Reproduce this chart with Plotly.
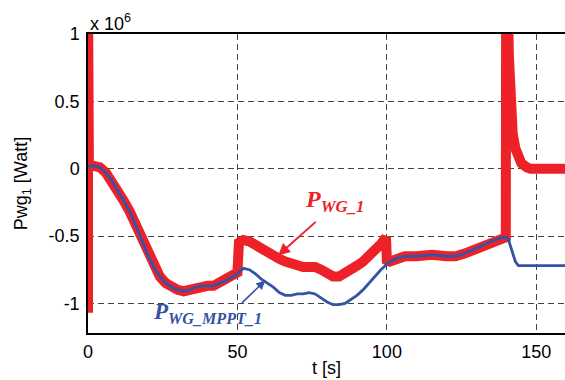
import plotly.graph_objects as go

# Blue: P_WG_MPPT_1 (units of 1e6 W)
t_mppt = [0, 2, 4, 6, 8, 10, 12, 14, 16, 18, 20, 22, 24, 26, 28, 30, 32, 34, 36, 38, 40,
          42, 44, 46, 48, 50, 51, 52, 54, 56, 58, 60, 62, 64, 66, 68, 70, 72, 74, 76, 78,
          80, 82, 84, 86, 88, 90, 92, 94, 96, 98, 100, 101, 103, 106, 110, 115, 120, 123,
          126, 130, 133, 136, 139, 140.3, 141, 142, 143, 144, 150, 160]
p_mppt = [0.02, 0.02, 0.01, -0.03, -0.09, -0.16, -0.24, -0.32, -0.42, -0.53, -0.64, -0.73,
          -0.80, -0.85, -0.88, -0.90, -0.91, -0.90, -0.88, -0.87, -0.87, -0.87, -0.85, -0.83,
          -0.81, -0.78, -0.76, -0.74, -0.75, -0.78, -0.82, -0.85, -0.88, -0.92, -0.94, -0.94,
          -0.93, -0.93, -0.92, -0.93, -0.96, -0.99, -1.01, -1.01, -1.00, -0.97, -0.94, -0.90,
          -0.85, -0.80, -0.75, -0.71, -0.69, -0.67, -0.65, -0.65, -0.64, -0.65, -0.65, -0.63,
          -0.59, -0.56, -0.53, -0.51, -0.51, -0.55, -0.63, -0.69, -0.72, -0.72, -0.72]

# Red: P_WG_1 (units of 1e6 W)
t_wg = [0, 0, 0.3, 2, 4, 6, 8, 10, 12, 14, 16, 18, 20, 22, 24, 26, 28, 30, 32, 34, 36, 38,
        40, 42, 44, 46, 48, 50, 50.5, 52, 54, 56, 58, 60, 62, 64, 66, 68, 70, 72, 74, 76, 78,
        80, 82, 84, 86, 88, 90, 92, 94, 96, 98, 99.7, 100, 101, 103, 106, 110, 115, 120, 123,
        126, 130, 133, 136, 139, 139.8, 139.9, 140.5, 140.8, 141.5, 142.1, 143.0, 143.8, 145,
        146.8, 148, 160]
p_wg = [-1.07, 1.3, 0.02, 0.02, 0.01, -0.03, -0.09, -0.16, -0.24, -0.32, -0.42, -0.53,
        -0.64, -0.73, -0.80, -0.85, -0.88, -0.90, -0.91, -0.90, -0.88, -0.87, -0.87, -0.87,
        -0.85, -0.83, -0.81, -0.77, -0.55, -0.53, -0.54, -0.57, -0.60, -0.63, -0.65, -0.67,
        -0.69, -0.71, -0.72, -0.73, -0.73, -0.73, -0.75, -0.78, -0.80, -0.80, -0.78, -0.75,
        -0.72, -0.69, -0.65, -0.61, -0.56, -0.51, -0.68, -0.69, -0.67, -0.65, -0.65, -0.64,
        -0.65, -0.65, -0.63, -0.59, -0.56, -0.53, -0.51, -0.51, 1.3, 1.3, 0.85, 0.49, 0.26,
        0.15, 0.09, 0.04, 0.01, 0.0, 0.0]

y_tickvals = [-1, -0.5, 0, 0.5, 1]
y_ticktext = ["-1", "-0.5", "0", "0.5", "1"]
x_tickvals = [0, 50, 100, 150]

RED = "#ED2228"
BLUE = "#3553A3"
SCALE = 1e6

fig = go.Figure()
fig.add_trace(go.Scatter(x=t_wg, y=[v * SCALE for v in p_wg], mode="lines",
                         line=dict(color=RED, width=10), showlegend=False, hoverinfo="skip"))
fig.add_trace(go.Scatter(x=t_mppt, y=[v * SCALE for v in p_mppt], mode="lines",
                         line=dict(color=BLUE, width=2.8), showlegend=False, hoverinfo="skip"))

font_fam = "Liberation Sans, Arial, sans-serif"
fig.update_layout(
    width=565, height=380,
    margin=dict(l=88, r=0, t=34, b=47),
    paper_bgcolor="white", plot_bgcolor="white",
    font=dict(family=font_fam, size=18, color="black"),
    xaxis=dict(range=[0, 159.6], tickvals=x_tickvals, showgrid=True, gridcolor="#444",
               griddash="6px,4px", gridwidth=1, zeroline=False, showline=True,
               linecolor="black", linewidth=1.5, mirror=True, ticks="",
               automargin=False, ticklabelstandoff=2,
               title=dict(text="t [s]", standoff=0, font=dict(size=18))),
    yaxis=dict(range=[-1.22 * SCALE, 1.0 * SCALE],
               tickvals=[v * SCALE for v in y_tickvals], ticktext=y_ticktext,
               showgrid=True, gridcolor="#444", griddash="6px,4px", gridwidth=1,
               zeroline=False, showline=True, linecolor="black", linewidth=1.5,
               mirror=False, ticks="", automargin=False, ticklabelstandoff=3,
               title=dict(text="Pwg<sub>1</sub> [Watt]", standoff=16, font=dict(size=18))),
)

fig.add_annotation(xref="paper", yref="paper", x=0, y=1, xanchor="left", yanchor="bottom",
                   text="x 10<sup>6</sup>", showarrow=False, font=dict(size=18), yshift=-2)

serif = "Liberation Serif, Times New Roman, serif"
fig.add_annotation(x=82.5, y=-0.237 * SCALE, text="<b><i>P<sub>WG_1</sub></i></b>",
                   showarrow=False, font=dict(family=serif, size=24, color=RED))
fig.add_annotation(x=63.6, y=-0.644 * SCALE, ax=76.7, ay=-0.385 * SCALE, axref="x", ayref="y",
                   text="", showarrow=True, arrowhead=2, arrowsize=1.2, arrowwidth=2,
                   arrowcolor=RED)
fig.add_annotation(x=40.0, y=-1.074 * SCALE, text="<b><i>P<sub>WG_MPPT_1</sub></i></b>",
                   showarrow=False, font=dict(family=serif, size=23, color=BLUE))
fig.add_annotation(x=59.3, y=-0.83 * SCALE, ax=51.0, ay=-1.007 * SCALE, axref="x", ayref="y",
                   text="", showarrow=True, arrowhead=2, arrowsize=1.2, arrowwidth=1.5,
                   arrowcolor=BLUE)

fig.write_html("out.html", config={"displayModeBar": False},
               post_script="document.body.style.margin='0';document.body.style.padding='0';")
